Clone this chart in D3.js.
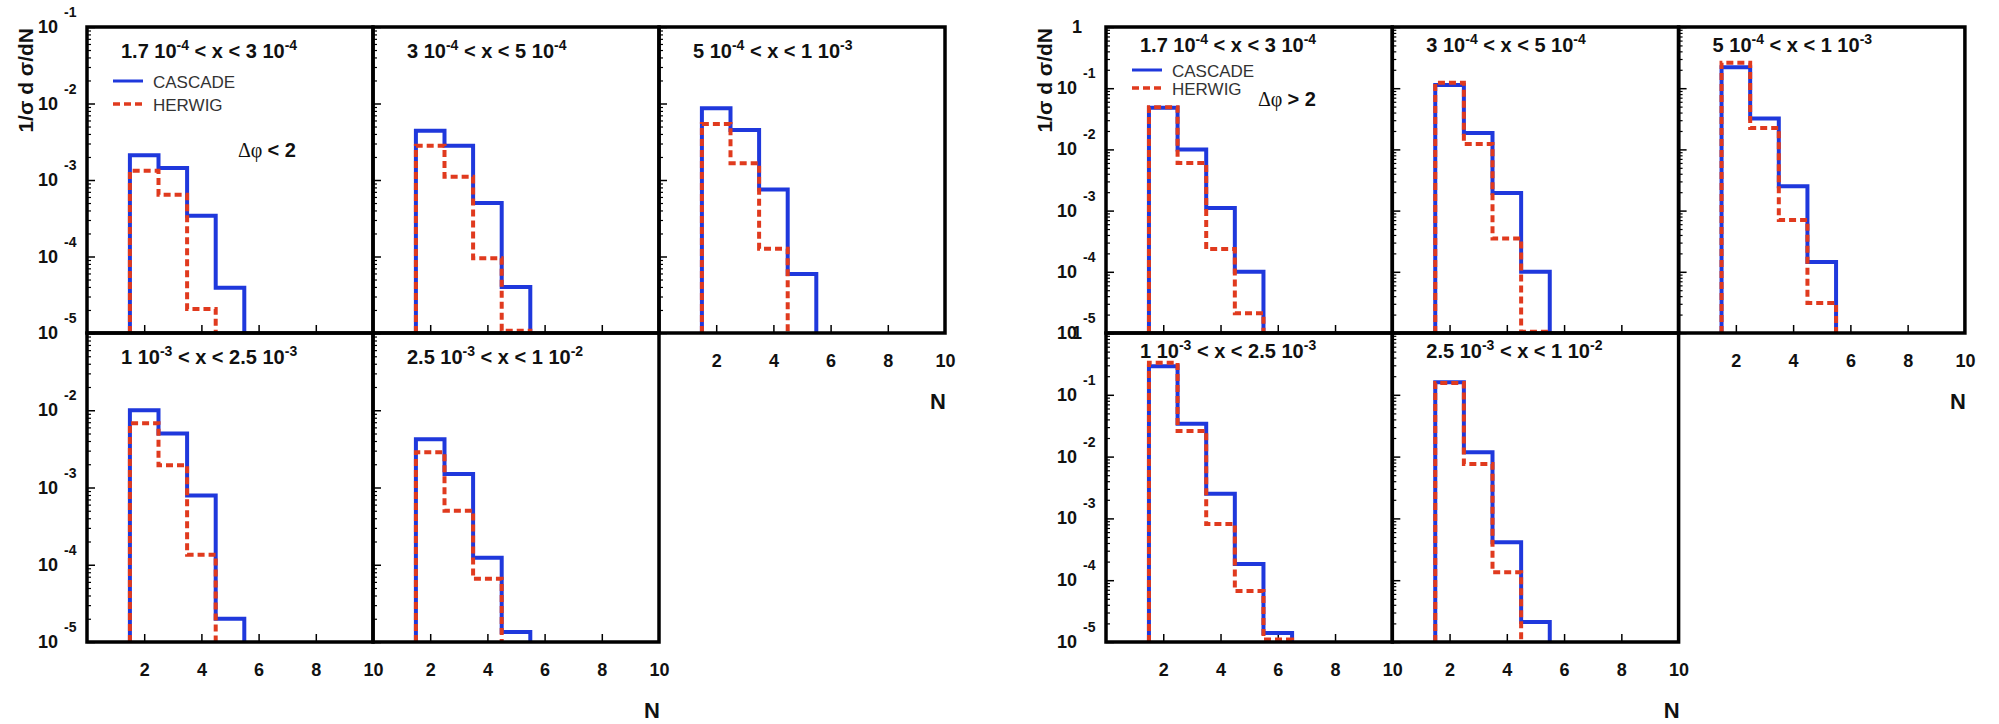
<!DOCTYPE html>
<html>
<head>
<meta charset="utf-8">
<script src="https://cdn.jsdelivr.net/npm/d3@7"></script>
<style>
  body { margin: 0; background: #fff; }
  svg { display: block; font-family: "Liberation Sans", Arial, Helvetica, sans-serif; }
</style>
</head>
<body>
<div id="chart"></div>
<script>
// x ranges of the five panels (^{..} = superscript)
const xRanges = [
  '1.7 10^{-4} < x < 3 10^{-4}',
  '3 10^{-4} < x < 5 10^{-4}',
  '5 10^{-4} < x < 1 10^{-3}',
  '1 10^{-3} < x < 2.5 10^{-3}',
  '2.5 10^{-3} < x < 1 10^{-2}'
];

// first bin is N = 2, then 3, 4, ...
const firstN = 2;

// delta phi < 2
const cascadeLow = [
  [2.1e-3, 1.44e-3, 3.4e-4, 3.9e-5],
  [4.4e-3, 2.8e-3, 5.0e-4, 4.0e-5],
  [8.7e-3, 4.5e-3, 7.5e-4, 5.9e-5],
  [1.0e-2, 5.0e-3, 7.9e-4, 2.0e-5],
  [4.2e-3, 1.5e-3, 1.23e-4, 1.35e-5]
];
const herwigLow = [
  [1.32e-3, 6.4e-4, 2.06e-5],
  [2.8e-3, 1.1e-3, 9.5e-5, 1.07e-5],
  [5.4e-3, 1.66e-3, 1.26e-4],
  [6.8e-3, 1.94e-3, 1.35e-4],
  [2.85e-3, 5.0e-4, 6.6e-5]
];

// delta phi > 2
const cascadeHigh = [
  [4.8e-2, 1.0e-2, 1.1e-3, 1.0e-4],
  [0.113, 1.85e-2, 1.94e-3, 1.0e-4],
  [0.22, 3.2e-2, 2.5e-3, 1.45e-4],
  [0.29, 3.4e-2, 2.5e-3, 1.83e-4, 1.4e-5],
  [0.16, 1.18e-2, 4.1e-4, 2.1e-5]
];
const herwigHigh = [
  [4.9e-2, 6.0e-3, 2.35e-4, 2.1e-5],
  [0.123, 1.23e-2, 3.5e-4, 1.05e-5],
  [0.26, 2.24e-2, 7.0e-4, 3.1e-5],
  [0.33, 2.6e-2, 8.1e-4, 6.7e-5, 1.1e-5],
  [0.155, 7.6e-3, 1.35e-4]
];

const xTicks = [2, 4, 6, 8, 10];
const yLabelsLowTop = [1e-1, 1e-2, 1e-3, 1e-4, 1e-5];
const yLabelsLowBottom = [1e-2, 1e-3, 1e-4, 1e-5];
const yLabelsHigh = [1, 1e-1, 1e-2, 1e-3, 1e-4, 1e-5];

const width = 1999, height = 724;
const blue = '#1f38dc', red = '#e03a1e';

const svg = d3.select('#chart').append('svg')
  .attr('width', width)
  .attr('height', height);

const figs = [
  { x0: 87, pw: 286, yMax: 1e-1, cas: cascadeLow, her: herwigLow, cut: '< 2',
    labels: [yLabelsLowTop, yLabelsLowBottom], titleDy: 31,
    leg: { ly1: 54, ly2: 77, dx: 151, dy: 130 } },
  { x0: 1106, pw: 286.3, yMax: 1, cas: cascadeHigh, her: herwigHigh, cut: '> 2',
    labels: [yLabelsHigh, yLabelsHigh], titleDy: 25,
    leg: { ly1: 43, ly2: 61, dx: 152, dy: 79 } }
];
const rows = [{ y: 27, h: 306 }, { y: 333, h: 309 }];

// write "a 10^{-4} b" as text with raised tspans
function richText(sel, str, size, supSize, raise) {
  const parts = str.split(/\^\{([^}]*)\}/);
  parts.forEach((p, i) => {
    if (!p) return;
    const sup = i % 2 === 1;
    sel.append('tspan')
      .attr('font-size', sup ? supSize : size)
      .attr('dy', sup ? -raise : (i > 0 ? raise : 0))
      .text(p);
  });
}

// outline of a histogram: up at the first edge, steps, down at the last edge
function histPoints(vals, floor) {
  const pts = [[firstN - 0.5, floor]];
  vals.forEach((v, i) => pts.push([firstN + i - 0.5, v]));
  const last = firstN + vals.length - 0.5;
  pts.push([last, vals[vals.length - 1]]);
  pts.push([last, floor]);
  return pts;
}

figs.forEach(fig => {
  xRanges.forEach((title, i) => {
    const col = i % 3, row = Math.floor(i / 3);
    const px = fig.x0 + col * fig.pw;
    const { y: py, h } = rows[row];

    const x = d3.scaleLinear().domain([0, 10]).range([px, px + fig.pw]);
    const y = d3.scaleLog().domain([1e-5, fig.yMax]).range([py + h, py]);

    const g = svg.append('g');

    // y ticks on the left edge, pointing inward
    const all = y.ticks();
    const majors = all.filter(v => Math.abs(Math.log10(v) - Math.round(Math.log10(v))) < 1e-9);
    const minors = all.filter(v => !majors.includes(v));
    g.append('g').attr('transform', `translate(${px},0)`)
      .call(d3.axisRight(y).tickValues(majors).tickSize(8).tickFormat(''))
      .call(a => a.select('.domain').remove())
      .selectAll('line').attr('stroke-width', 1.5);
    g.append('g').attr('transform', `translate(${px},0)`)
      .call(d3.axisRight(y).tickValues(minors).tickSize(4).tickFormat(''))
      .call(a => a.select('.domain').remove())
      .selectAll('line').attr('stroke-width', 1.2);

    // x ticks on the bottom edge, pointing up
    g.append('g').attr('transform', `translate(0,${py + h})`)
      .call(d3.axisTop(x).tickValues(xTicks.slice(0, 4)).tickSize(8).tickFormat(''))
      .call(a => a.select('.domain').remove())
      .selectAll('line').attr('stroke-width', 1.5);

    // histograms
    const line = d3.line().curve(d3.curveStepAfter).x(d => x(d[0])).y(d => y(d[1]));
    g.append('path')
      .attr('d', line(histPoints(fig.cas[i], 1e-5)))
      .attr('fill', 'none').attr('stroke', blue).attr('stroke-width', 4);
    g.append('path')
      .attr('d', line(histPoints(fig.her[i], 1e-5)))
      .attr('fill', 'none').attr('stroke', red).attr('stroke-width', 4)
      .attr('stroke-dasharray', '7,4');

    // frame
    g.append('rect')
      .attr('x', px).attr('y', py).attr('width', fig.pw).attr('height', h)
      .attr('fill', 'none').attr('stroke', '#000').attr('stroke-width', 3.5);

    // panel title
    richText(g.append('text')
      .attr('x', px + 34).attr('y', py + fig.titleDy)
      .attr('font-weight', 'bold').attr('fill', '#111'), title, 20, 14, 8);

    // y labels on the first column
    if (col === 0) {
      const labs = fig.labels[row];
      const lg = g.append('g').attr('font-weight', 'bold').attr('fill', '#111');
      labs.forEach(v => {
        const e = Math.round(Math.log10(v));
        lg.append('text')
          .attr('x', e === 0 ? px - 24 : px - 29).attr('y', y(v) + 6)
          .attr('text-anchor', 'end').attr('font-size', 18)
          .text(e === 0 ? '1' : '10');
        if (e !== 0) {
          lg.append('text')
            .attr('x', px - 23).attr('y', y(v) - 10)
            .attr('font-size', 14)
            .text(e);
        }
      });
    }

    // x labels where no panel is below
    if (row === 1 || col === 2) {
      g.append('g').attr('transform', `translate(0,${py + h})`)
        .call(d3.axisBottom(x).tickValues(xTicks).tickSize(0).tickPadding(21))
        .call(a => a.select('.domain').remove())
        .selectAll('text')
          .attr('font-size', 18).attr('font-weight', 'bold').attr('fill', '#111')
          .attr('font-family', '"Liberation Sans", Arial, sans-serif');
    }
    if (i === 2 || i === 4) {
      g.append('text')
        .attr('x', px + fig.pw - 7).attr('y', py + h + 76)
        .attr('text-anchor', 'middle')
        .attr('font-size', 22).attr('font-weight', 'bold').attr('fill', '#111')
        .text('N');
    }

    // legend and cut label in the first panel
    if (i === 0) {
      const L = fig.leg;
      g.append('line')
        .attr('x1', px + 26).attr('x2', px + 56)
        .attr('y1', py + L.ly1).attr('y2', py + L.ly1)
        .attr('stroke', blue).attr('stroke-width', 3);
      g.append('line')
        .attr('x1', px + 26).attr('x2', px + 56)
        .attr('y1', py + L.ly2).attr('y2', py + L.ly2)
        .attr('stroke', red).attr('stroke-width', 3.5).attr('stroke-dasharray', '7,4');
      g.append('text')
        .attr('x', px + 66).attr('y', py + L.ly1 + 7)
        .attr('font-size', 17).attr('fill', '#333')
        .text('CASCADE');
      g.append('text')
        .attr('x', px + 66).attr('y', py + L.ly2 + 7)
        .attr('font-size', 17).attr('fill', '#333')
        .text('HERWIG');
      const t = g.append('text')
        .attr('x', px + L.dx).attr('y', py + L.dy)
        .attr('font-size', 20).attr('fill', '#111');
      t.append('tspan').attr('font-family', '"Liberation Serif", "Times New Roman", serif').text('Δφ ');
      t.append('tspan').attr('font-weight', 'bold').text(fig.cut);
    }
  });

  // y axis title
  svg.append('text')
    .attr('transform', `translate(${fig.x0 - 54},28) rotate(-90)`)
    .attr('text-anchor', 'end')
    .attr('font-size', 21).attr('font-weight', 'bold').attr('fill', '#111')
    .text('1/σ d σ/dN');
});
</script>
</body>
</html>
